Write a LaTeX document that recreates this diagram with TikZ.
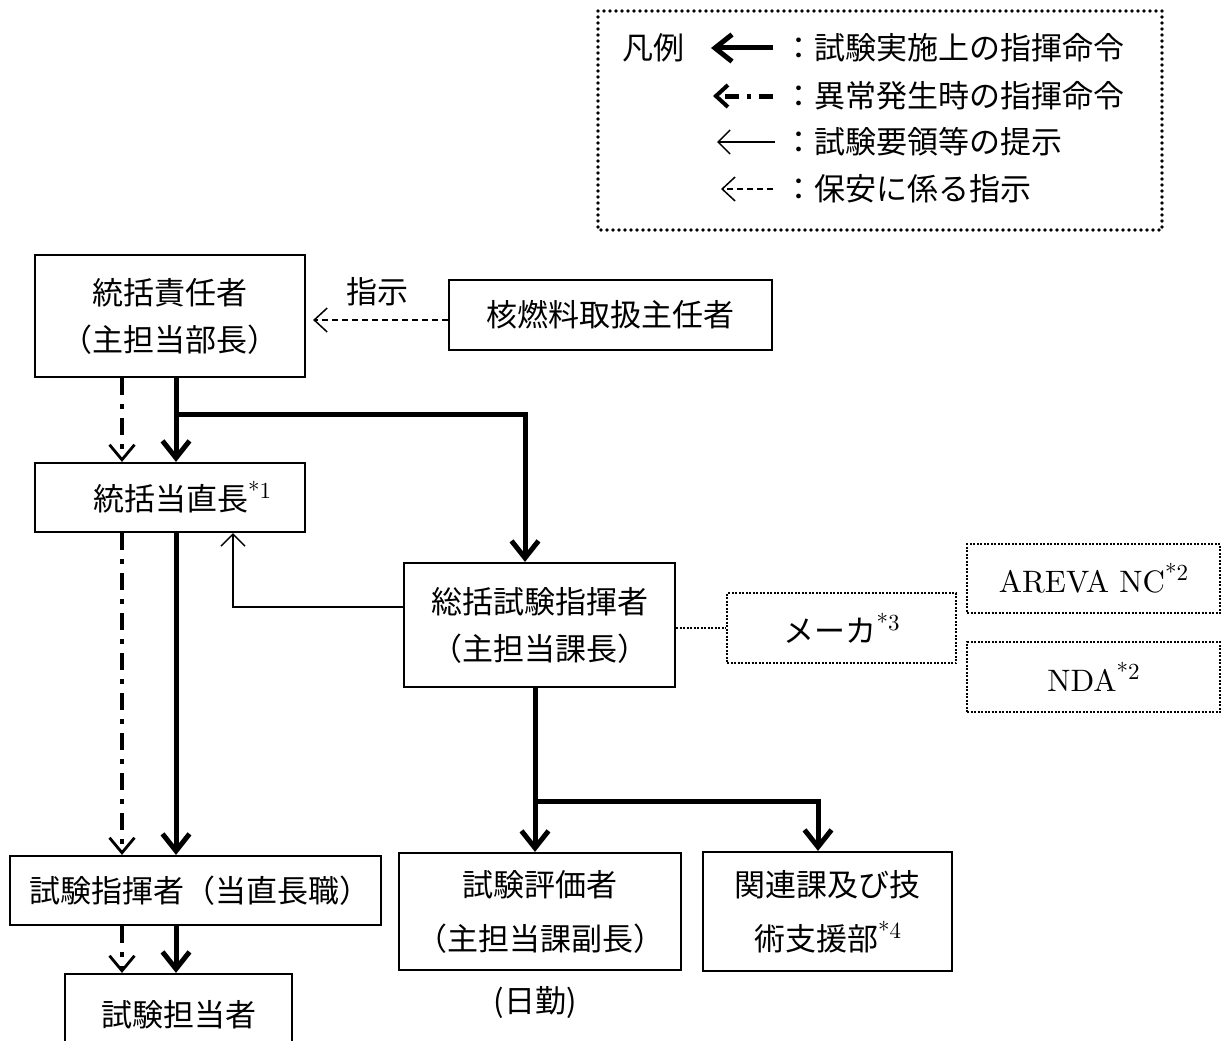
\documentclass[tikz,border=0pt]{standalone}
\usepackage{fontspec}
\newfontfamily\jp{Noto Sans CJK JP}
\newfontfamily\lmten{lmroman10-regular.otf}
\usetikzlibrary{arrows.meta,calc}
\newcommand\fszA{\fontsize{31pt}{47pt}\selectfont}
\newcommand\fszB{\fontsize{31pt}{54pt}\selectfont}
\newcommand\supx[1]{{\lmten\raisebox{12pt}{\fontsize{23pt}{23pt}\selectfont #1}}}
\begin{document}
\begin{tikzpicture}[x=1pt,y=-1pt,
  box/.style={draw,line width=2.2pt,inner sep=0pt,align=center,font=\jp\fszA},
  boxB/.style={box,font=\jp\fszB},
  dotbox/.style={draw,line width=2.3pt,dash pattern=on 2pt off 1.5pt,inner sep=0pt,align=center,font=\lmten\fszA},
  lbl/.style={inner sep=0pt,font=\jp\fszA},
  cmd/.style={line width=5pt,-{Straight Barb[length=17pt,width=27pt]}},
  emg/.style={line width=3.6pt,dash pattern=on 17pt off 9pt on 5pt off 9pt,-{Straight Barb[length=15pt,width=25pt,line width=2.8pt]}},
  thinarr/.style={line width=1.5pt,-{Straight Barb[length=12pt,width=24pt]}},
  dsharr/.style={line width=1.5pt,dash pattern=on 6pt off 4pt,-{Straight Barb[length=13pt,width=24pt]}},
  dotline/.style={line width=2.3pt,dash pattern=on 2pt off 1.5pt}
]
\useasboundingbox (0,0) rectangle (1221,1041);
\fill[white] (0,0) rectangle (1221,1041);

% legend
\draw[line width=3.8pt,line cap=round,dash pattern=on 0pt off 6pt] (598,11) rectangle (1162,230);
\node[lbl] (leg) at (653,48) {凡例};
\coordinate (l1a) at (773,48);  \coordinate (l1b) at (711,48);
\coordinate (l2a) at (773,96);  \coordinate (l2b) at (713,96);
\coordinate (l3a) at (775,142); \coordinate (l3b) at (717,142);
\coordinate (l4a) at (773,189); \coordinate (l4b) at (721,189);
\draw[cmd] (l1a) -- (l1b);
\draw[line width=5pt,dash pattern=on 14pt off 8pt on 4pt off 8pt,-{Straight Barb[length=12pt,width=22pt,line width=4pt]}] (l2a) -- (l2b);
\draw[thinarr] (l3a) -- (l3b);
\draw[dsharr] (l4a) -- (l4b);
\node[lbl,anchor=west] (t1) at (783,48) {：試験実施上の指揮命令};
\node[lbl,anchor=west] (t2) at (783,96) {：異常発生時の指揮命令};
\node[lbl,anchor=west] (t3) at (783,142) {：試験要領等の提示};
\node[lbl,anchor=west] (t4) at (783,189) {：保安に係る指示};

% boxes
\node[box,minimum width=270pt,minimum height=122pt] (A) at (170,316) {統括責任者\\（主担当部長）};
\node[box,minimum width=323pt,minimum height=70pt] (B) at (610.5,315) {核燃料取扱主任者};
\node[box,minimum width=270pt,minimum height=69pt] (C) at (170,497.5) {\hspace*{24pt}統括当直長\supx{*1}};
\node[box,minimum width=271pt,minimum height=124pt] (D) at (539.5,625) {総括試験指揮者\\（主担当課長）};
\node[box,minimum width=371pt,minimum height=69pt] (E) at (195.5,890.5) {\hspace*{8pt}試験指揮者（当直長職）};
\node[box,minimum width=227pt,minimum height=82pt] (F) at (178.5,1015) {試験担当者};
\node[boxB,minimum width=282pt,minimum height=117pt] (G) at (540,911.5) {試験評価者\\（主担当課副長）};
\node[boxB,minimum width=249pt,minimum height=119pt] (H) at (827.5,911.5) {関連課及び技\\術支援部\supx{*4}};
\node[dotbox,minimum width=229pt,minimum height=70pt] (I) at (841.5,628) {{\jp メーカ}\supx{*3}};
\node[dotbox,minimum width=253pt,minimum height=69pt] (J) at (1093.5,578.5) {AREVA NC\supx{*2}};
\node[dotbox,minimum width=253pt,minimum height=70pt] (K) at (1093.5,677) {NDA\supx{*2}};
\node[lbl] (shiji) at (377,292) {指示};
\node[lbl] (nikkin) at (535,1003) {(日勤)};

% helper coordinates
\coordinate (xT) at (176,0);
\coordinate (xD) at (122,0);
\coordinate (xB) at (525,0);
\coordinate (xt) at (233,0);
\coordinate (xM) at (535,0);
\coordinate (xH) at (818,0);
\coordinate (yb1) at (0,414);
\coordinate (yb2) at (0,801);
\coordinate (bw) at ([yshift=-5pt]B.west);

% connectors
\draw[dsharr,shorten >=7pt] (bw) -- (bw -| A.east);
\draw[emg] (xD |- A.south) -- (xD |- C.north);
\draw[cmd] (xT |- A.south) -- (xT |- C.north);
\draw[cmd] (xT |- yb1) -| (xB |- D.north);
\draw[thinarr] ([yshift=18pt]D.west) -| (xt |- C.south);
\draw[emg] (xD |- C.south) -- (xD |- E.north);
\draw[cmd] (xT |- C.south) -- (xT |- E.north);
\draw[emg] (xD |- E.south) -- (xD |- F.north);
\draw[cmd] (xT |- E.south) -- (xT |- F.north);
\draw[cmd] (xM |- D.south) -- (xM |- G.north);
\draw[cmd] (xM |- yb2) -| (xH |- H.north);
\draw[dotline] (I.west -| D.east) -- (I.west);
\end{tikzpicture}
\end{document}
